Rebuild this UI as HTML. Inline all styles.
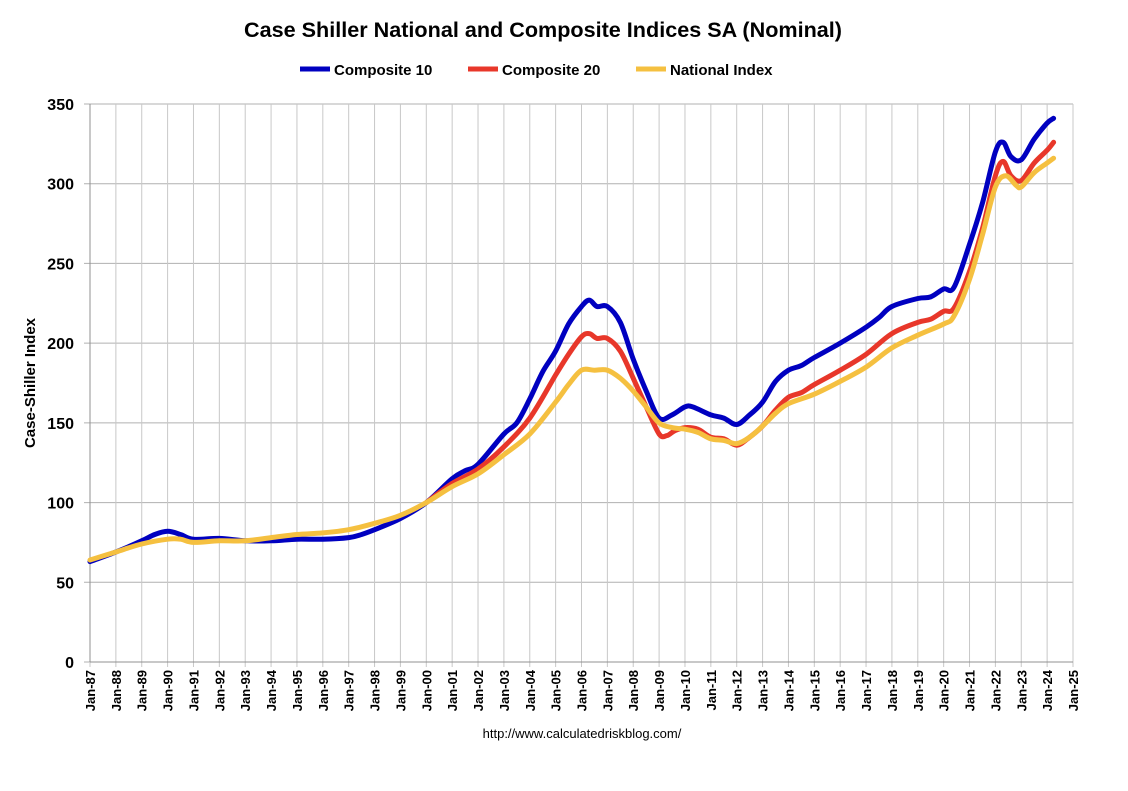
<!DOCTYPE html>
<html><head><meta charset="utf-8"><style>
html,body{margin:0;padding:0;background:#fff;}
svg text{font-family:"Liberation Sans",Arial,sans-serif;}
</style></head><body>
<svg id="s" width="1128" height="786" xmlns="http://www.w3.org/2000/svg">
<rect width="1128" height="786" fill="#fff"/>
<text x="543" y="37" text-anchor="middle" font-size="21" font-weight="bold" fill="#000" textLength="598" lengthAdjust="spacingAndGlyphs">Case Shiller National and Composite Indices SA (Nominal)</text>
<g font-size="15" font-weight="bold" fill="#000">
<line x1="300" y1="69" x2="330" y2="69" stroke="#0000c0" stroke-width="5"/>
<text x="334" y="75">Composite 10</text>
<line x1="468" y1="69" x2="498" y2="69" stroke="#e8372a" stroke-width="5"/>
<text x="502" y="75">Composite 20</text>
<line x1="636" y1="69" x2="666" y2="69" stroke="#f5c040" stroke-width="5"/>
<text x="670" y="75">National Index</text>
</g>
<text transform="translate(35,383) rotate(-90)" text-anchor="middle" font-size="15" font-weight="bold">Case-Shiller Index</text>
<text x="582" y="738" text-anchor="middle" font-size="13">http://www.calculatedriskblog.com/</text>
<g id="grid"></g>
<g id="lines" fill="none" stroke-linejoin="round" stroke-linecap="round"></g>
</svg>
<script>
var L=90,R=1073,T=104,B=662;
function X(y){return L+(y-1987)*(R-L)/38;}
function Y(v){return B-v*(B-T)/350;}
var g=document.getElementById('grid'),h='';
for(var v=0;v<=350;v+=50){var y=Y(v);h+='<line x1="84" x2="'+R+'" y1="'+y+'" y2="'+y+'" stroke="#b0b0b0" stroke-width="1"/>';
h+='<text x="74" y="'+(y+6)+'" text-anchor="end" font-size="16" font-weight="bold">'+v+'</text>';}
for(var yr=1987;yr<=2025;yr++){var x=X(yr);h+='<line x1="'+x+'" x2="'+x+'" y1="'+T+'" y2="'+(B+5)+'" stroke="#c8c8c8" stroke-width="1"/>';
var lab='Jan-'+String(yr%100).padStart(2,'0');
h+='<text transform="translate('+(x+5)+','+(B+8)+') rotate(-90)" text-anchor="end" font-size="13" font-weight="bold">'+lab+'</text>';}
h+='<line x1="'+L+'" x2="'+L+'" y1="'+T+'" y2="'+B+'" stroke="#909090"/><line x1="'+L+'" x2="'+R+'" y1="'+B+'" y2="'+B+'" stroke="#909090"/>';
g.innerHTML=h;
var c10=[1987,63,1988,69,1989,76,1989.5,80,1990,82,1990.5,80,1991,77,1992,77.5,1993,76,1994,76,1995,77,1996,77,1997,78,1997.5,80,1998,83,1999,90,2000,100,2001,115,2001.5,120,2002,124,2003,143,2003.5,150,2004,165,2004.5,182,2005,195,2005.5,212,2006,223,2006.3,227,2006.6,223,2007,223,2007.5,213,2008,190,2008.5,170,2009,153,2009.5,155,2010,160,2010.3,160,2011,155,2011.5,153,2012,149,2012.5,155,2013,163,2013.5,176,2014,183,2014.5,186,2015,191,2016,200,2017,210,2017.5,216,2018,223,2019,228,2019.5,229,2020,234,2020.4,235,2021,262,2021.5,288,2022,320,2022.3,326,2022.6,317,2023,315,2023.5,328,2024,338,2024.25,341];
var c20=[2000,100,2001,112,2002,121,2003,135,2004,153,2005,180,2005.5,193,2006,204,2006.3,206,2006.6,203,2007,203,2007.5,195,2008,178,2008.5,160,2009,143,2009.3,142,2009.6,145,2010,147,2010.5,146,2011,141,2011.5,140,2012,136,2012.5,141,2013,148,2013.5,158,2014,166,2014.5,169,2015,174,2016,183,2017,193,2018,206,2019,213,2019.5,215,2020,220,2020.4,222,2021,245,2021.5,272,2022,305,2022.3,314,2022.6,305,2023,302,2023.5,313,2024,321,2024.25,326];
var nat=[1987,64,1988,69,1989,74,1990,77,1990.5,77,1991,75,1992,76,1993,76,1994,78,1995,80,1996,81,1997,83,1998,87,1999,92,2000,100,2001,110,2002,118,2003,130,2004,143,2005,163,2005.5,174,2006,183,2006.5,183,2007,183,2007.5,178,2008,170,2008.5,160,2009,150,2009.5,147,2010,146,2010.5,144,2011,140,2011.5,139,2012,137,2012.5,141,2013,148,2013.5,156,2014,162,2015,168,2016,176,2017,185,2018,197,2019,205,2020,212,2020.4,217,2021,240,2021.5,268,2022,298,2022.4,305,2022.8,299,2023,298,2023.5,307,2024,313,2024.25,316];
function path(d,col){var P=[];for(var i=0;i<d.length;i+=2)P.push([X(d[i]),Y(d[i+1])]);
var p='M'+P[0][0].toFixed(1)+','+P[0][1].toFixed(1);
for(var i=0;i<P.length-1;i++){var p0=P[Math.max(i-1,0)],p1=P[i],p2=P[i+1],p3=P[Math.min(i+2,P.length-1)];
var c1x=p1[0]+(p2[0]-p0[0])/6,c1y=p1[1]+(p2[1]-p0[1])/6,c2x=p2[0]-(p3[0]-p1[0])/6,c2y=p2[1]-(p3[1]-p1[1])/6;
p+='C'+c1x.toFixed(1)+','+c1y.toFixed(1)+' '+c2x.toFixed(1)+','+c2y.toFixed(1)+' '+p2[0].toFixed(1)+','+p2[1].toFixed(1);}
return '<path d="'+p+'" stroke="'+col+'" stroke-width="5"/>';}
document.getElementById('lines').innerHTML=path(c10,'#0000c0')+path(c20,'#e8372a')+path(nat,'#f5c040');
</script>
</body></html>
